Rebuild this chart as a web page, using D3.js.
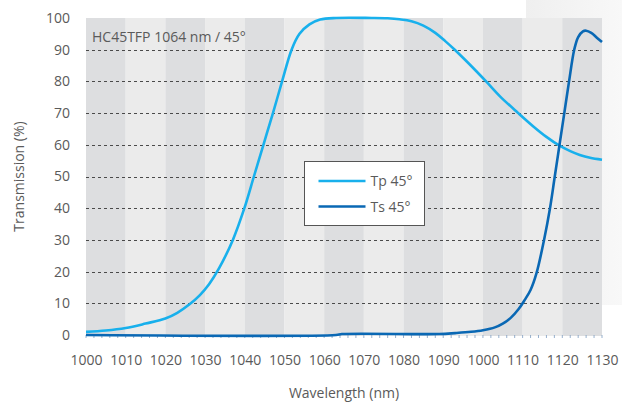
<!DOCTYPE html>
<html>
<head>
<meta charset="utf-8">
<script src="https://cdn.jsdelivr.net/npm/d3@7"></script>
<style>
  body { margin: 0; background: #fff; }
  svg text { font-family: "Open Sans", "Noto Sans", sans-serif; fill: #5a5a5a; }
</style>
</head>
<body>
<div id="chart"></div>
<script>
// data
var xTicks = [1000, 1010, 1020, 1030, 1040, 1050, 1060, 1070, 1080, 1090, 1100, 1110, 1120, 1130];
var xTickLabels = ["1000", "1010", "1020", "1030", "1040", "1050", "1060", "1070", "1080", "1090", "1000", "1110", "1120", "1130"];
var yTicks = [0, 10, 20, 30, 40, 50, 60, 70, 80, 90, 100];
var gridValues = [10, 20, 30, 40, 50, 60, 70, 80, 90];

var tpWavelength = [1000, 1005, 1010, 1015, 1020, 1023, 1026, 1028.7, 1031, 1033.5, 1037, 1039.9, 1042.3, 1044.7, 1047.1, 1049.4, 1051.8, 1053.8, 1056.3, 1059, 1063, 1072, 1076, 1079, 1082, 1085, 1088, 1090.5, 1092.9, 1096, 1100.8, 1104.3, 1108.9, 1112.7, 1116, 1119.2, 1122, 1124.4, 1127, 1130];
var tpValues = [1.0, 1.4, 2.2, 3.6, 5.2, 7.0, 9.6, 12.6, 16, 21, 30, 40, 50, 60, 70, 80, 90, 95, 98, 99.5, 100, 100, 99.9, 99.6, 99.0, 97.6, 95.3, 92.7, 90, 86.2, 80, 75.3, 70, 65.8, 62.5, 59.8, 58, 56.8, 55.9, 55.3];

var tsWavelength = [1000, 1063, 1064.5, 1089, 1093, 1097, 1100, 1103, 1105, 1107, 1109, 1110.5, 1112, 1113.5, 1115.4, 1116.9, 1118.1, 1119.3, 1120.5, 1121.7, 1123.0, 1124.0, 1125.2, 1126.0, 1127.3, 1128.7, 1130];
var tsValues = [0, 0, 0.3, 0.3, 0.6, 1.0, 1.5, 2.4, 3.6, 5.4, 8.2, 11, 14.2, 19.5, 30, 40, 50, 60, 70, 80, 90, 94, 95.8, 96, 95.3, 93.8, 92.4];

var seriesNames = ["Tp 45°", "Ts 45°"];
var seriesColors = ["#18b0ec", "#0a68b4"];

var svgWidth = 622;
var svgHeight = 403;
var margin = { top: 18, right: 20, bottom: 68, left: 86 };
var chartWidth = svgWidth - margin.left - margin.right;
var chartHeight = svgHeight - margin.top - margin.bottom;

var svg = d3.select("#chart")
    .append("svg")
    .attr("width", svgWidth)
    .attr("height", svgHeight);

// faint panel in the top right corner
var grad = svg.append("defs").append("linearGradient")
    .attr("id", "fade").attr("x1", "0").attr("x2", "1");
grad.append("stop").attr("offset", "0").attr("stop-color", "#efefef");
grad.append("stop").attr("offset", "1").attr("stop-color", "#f8f8f8");
svg.append("rect")
    .attr("x", 526).attr("y", 0).attr("width", 96).attr("height", 305)
    .attr("fill", "url(#fade)");

var chartGroup = svg.append("g")
    .attr("transform", `translate(${margin.left}, ${margin.top})`);

var xScale = d3.scaleLinear().domain([1000, 1130]).range([0, chartWidth]);
var yScale = d3.scaleLinear().domain([0, 100]).range([chartHeight, 0]);

// alternating bands
var bands = d3.range(1000, 1130, 10);
chartGroup.selectAll(".band")
    .data(bands)
    .enter().append("rect")
    .attr("x", d => xScale(d))
    .attr("y", 0)
    .attr("width", d => xScale(d + 10) - xScale(d))
    .attr("height", chartHeight + 1)
    .attr("fill", (d, i) => i % 2 === 0 ? "#dddee0" : "#ebebeb");

// dashed grid
chartGroup.selectAll(".grid")
    .data(gridValues)
    .enter().append("line")
    .attr("x1", 0).attr("x2", chartWidth)
    .attr("y1", d => Math.round(yScale(d)) + 0.5)
    .attr("y2", d => Math.round(yScale(d)) + 0.5)
    .attr("stroke", "#4a4a4a")
    .attr("stroke-width", 1)
    .attr("stroke-dasharray", "3,3");

// small ticks along the base
chartGroup.selectAll(".minor")
    .data(d3.range(1000, 1131, 2))
    .enter().append("line")
    .attr("x1", d => xScale(d)).attr("x2", d => xScale(d))
    .attr("y1", chartHeight).attr("y2", chartHeight + 3)
    .attr("stroke", "#7c9cc0")
    .attr("stroke-width", 0.8);

// axes
var bottomAxis = d3.axisBottom(xScale)
    .tickValues(xTicks)
    .tickFormat((d, i) => xTickLabels[i])
    .tickSize(0)
    .tickPadding(20);
var leftAxis = d3.axisLeft(yScale)
    .tickValues(yTicks)
    .tickSize(0)
    .tickPadding(16);

var xAxisG = chartGroup.append("g")
    .attr("transform", `translate(0, ${chartHeight})`)
    .call(bottomAxis);
var yAxisG = chartGroup.append("g").call(leftAxis);
[xAxisG, yAxisG].forEach(function(g) {
    g.select(".domain").remove();
    g.selectAll("text")
        .style("font-size", "14px")
        .attr("fill", "#5a5a5a");
});

// lines
var line = d3.line()
    .x(d => xScale(d[0]))
    .y(d => yScale(d[1]))
    .curve(d3.curveCatmullRom.alpha(0.5));

var tpData = tpWavelength.map((w, i) => [w, tpValues[i]]);
var tsData = tsWavelength.map((w, i) => [w, tsValues[i]]);

chartGroup.append("path")
    .datum(tpData)
    .attr("d", line)
    .attr("fill", "none")
    .attr("stroke", seriesColors[0])
    .attr("stroke-width", 2.6);

chartGroup.append("path")
    .datum(tsData)
    .attr("d", line)
    .attr("fill", "none")
    .attr("stroke", seriesColors[1])
    .attr("stroke-width", 2.6);

// annotation
chartGroup.append("text")
    .attr("x", 6)
    .attr("y", 24)
    .style("font-size", "14px")
    .text("HC45TFP 1064 nm / 45°");

// legend
var legend = svg.append("g").attr("transform", "translate(304.5, 161.5)");
legend.append("rect")
    .attr("width", 120).attr("height", 64)
    .attr("fill", "#fff")
    .attr("stroke", "#555")
    .attr("stroke-width", 1);
seriesNames.forEach(function(name, i) {
    var yy = 19.5 + i * 25.5;
    legend.append("line")
        .attr("x1", 14).attr("x2", 61)
        .attr("y1", yy).attr("y2", yy)
        .attr("stroke", seriesColors[i])
        .attr("stroke-width", 2.6);
    legend.append("text")
        .attr("x", 66)
        .attr("y", yy + 5)
        .style("font-size", "14px")
        .text(name);
});

// axis titles
svg.append("text")
    .attr("x", margin.left + chartWidth / 2)
    .attr("y", 398)
    .attr("text-anchor", "middle")
    .style("font-size", "14px")
    .text("Wavelength (nm)");

svg.append("text")
    .attr("transform", `translate(24, ${margin.top + chartHeight / 2}) rotate(-90)`)
    .attr("text-anchor", "middle")
    .style("font-size", "14px")
    .text("Transmission (%)");
</script>
</body>
</html>
